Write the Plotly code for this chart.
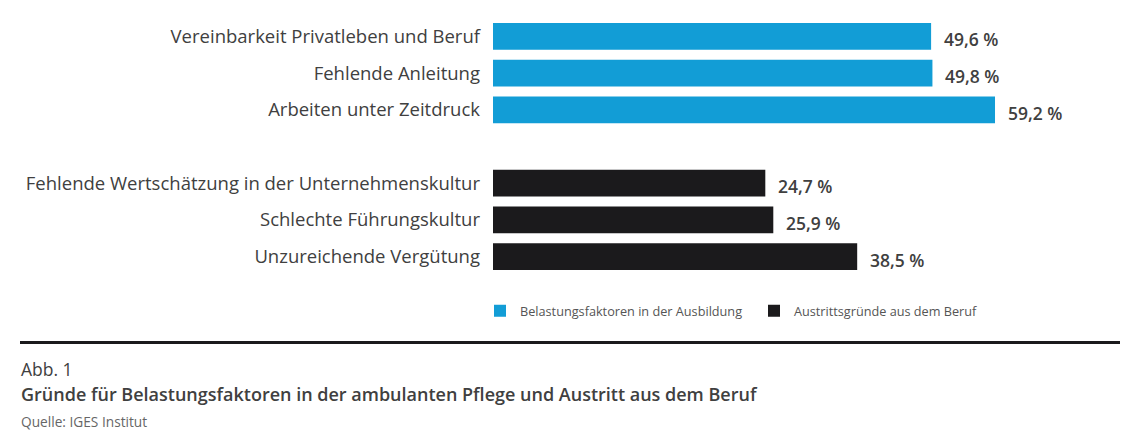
import plotly.graph_objects as go

# data
blue_labels = ["Vereinbarkeit Privatleben und Beruf", "Fehlende Anleitung", "Arbeiten unter Zeitdruck"]
blue_values = [49.6, 49.8, 59.2]
black_labels = ["Fehlende Wertschätzung in der Unternehmenskultur", "Schlechte Führungskultur", "Unzureichende Vergütung"]
black_values = [24.7, 25.9, 38.5]
series_names = ["Belastungsfaktoren in der Ausbildung", "Austrittsgründe aus dem Beruf"]

BLUE = "#129dd6"
BLACK = "#1b1a1c"
TEXT = "#404040"
FONT = "Open Sans"

# the original chart does not start its bars at zero
BASE = -16.2

OFF = 8  # default body margin of the html page
W, H = 1140 - OFF, 448 - OFF
ML, MR, MT, MB = 493 - OFF, 20, 18 - OFF, 173
PH = H - MT - MB
PW = W - ML - MR


def py(p):
    # pixel row of the window -> paper y
    return (H - MB - (p - OFF)) / PH


def px(p):
    return (p - OFF - ML) / PW


order = blue_labels + [" "] + black_labels

fig = go.Figure()
fig.add_trace(go.Bar(y=blue_labels, x=[v - BASE for v in blue_values], base=BASE, orientation="h",
                     width=0.727, marker=dict(color=BLUE, line_width=0), name=series_names[0]))
fig.add_trace(go.Bar(y=black_labels, x=[v - BASE for v in black_values], base=BASE, orientation="h",
                     width=0.727, marker=dict(color=BLACK, line_width=0), name=series_names[1]))

for lab, v in zip(blue_labels + black_labels, blue_values + black_values):
    fig.add_annotation(x=v, y=lab, xref="x", yref="y", text=f"{v:.1f} %".replace(".", ","),
                       showarrow=False, xanchor="left", xshift=11, yshift=-3,
                       font=dict(family=FONT, size=17.5, color=TEXT, weight=600))

# footer
fig.add_shape(type="line", xref="paper", yref="paper", x0=px(20), x1=px(1120), y0=py(342.5), y1=py(342.5),
              line=dict(color=BLACK, width=3))
fig.add_annotation(text="Abb. 1", xref="paper", yref="paper", x=px(19), y=py(369), xanchor="left",
                   yanchor="middle", showarrow=False, font=dict(family=FONT, size=17.5, color=TEXT))
fig.add_annotation(text="Gründe für Belastungsfaktoren in der ambulanten Pflege und Austritt aus dem Beruf",
                   xref="paper", yref="paper", x=px(19), y=py(394), xanchor="left", yanchor="middle",
                   showarrow=False, font=dict(family=FONT, size=18, color=TEXT, weight=600))
fig.add_annotation(text="Quelle: IGES Institut", xref="paper", yref="paper", x=px(19), y=py(421),
                   xanchor="left", yanchor="middle", showarrow=False,
                   font=dict(family=FONT, size=13.7, color="#666666"))

fig.update_layout(
    width=W, height=H,
    margin=dict(l=ML, r=MR, t=MT, b=MB),
    barmode="overlay",
    paper_bgcolor="white", plot_bgcolor="white",
    showlegend=True,
    legend=dict(orientation="h", x=px(480), y=py(311), xanchor="left", yanchor="middle",
                font=dict(family=FONT, size=12.7, color="#555555"), entrywidth=229, itemwidth=30,
                traceorder="normal"),
    xaxis=dict(range=[BASE, BASE + PW / 6.658], visible=False),
    yaxis=dict(categoryorder="array", categoryarray=order, range=[6.5, -0.5], showgrid=False,
               zeroline=False, showline=False, ticks="", ticklabelstandoff=12,
               tickfont=dict(family=FONT, size=18.5, color=TEXT)),
    hovermode=False,
)

fig.write_html("out.html")
